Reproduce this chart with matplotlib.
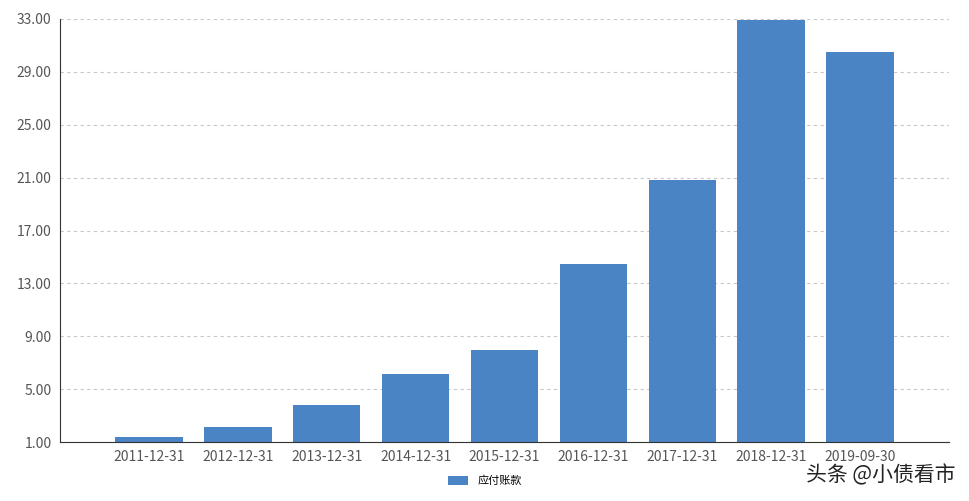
import matplotlib
matplotlib.use("Agg")
import matplotlib.pyplot as plt

plt.rcParams['font.family'] = ['Noto Sans CJK SC', 'DejaVu Sans']

dates = ["2011-12-31", "2012-12-31", "2013-12-31", "2014-12-31", "2015-12-31",
         "2016-12-31", "2017-12-31", "2018-12-31", "2019-09-30"]
payables = [1.38, 2.13, 3.8, 6.14, 7.96, 14.46, 20.82, 32.9, 30.5]
yticks = [1, 5, 9, 13, 17, 21, 25, 29, 33]

fig = plt.figure(figsize=(9.7, 5.01), dpi=100)
ax = fig.add_axes([60 / 970, 59 / 501, 889 / 970, 423 / 501])

x = range(len(dates))
ax.bar(x, [v - 1 for v in payables], bottom=1, width=0.76, color="#4a84c4", label="应付账款", zorder=2)

ax.set_xlim(-1, len(dates))
ax.set_ylim(1, 33)
ax.set_yticks(yticks)
ax.set_yticklabels([f"{v:.2f}" for v in yticks])
ax.set_xticks(list(x))
ax.set_xticklabels(dates)
ax.yaxis.grid(True, linestyle=(0, (3, 3)), color="#c8c8c8", linewidth=0.8, zorder=0)
for s in ("top", "right"):
    ax.spines[s].set_visible(False)
ax.spines["left"].set_color("#333333")
ax.spines["bottom"].set_color("#333333")
ax.tick_params(axis="both", labelsize=10, labelcolor="#555555", length=0, pad=6)

fig.legend(loc="lower center", bbox_to_anchor=(0.5, 0.01), frameon=False, fontsize=8,
           handlelength=1.8, handleheight=0.9)
fig.text(0.985, 0.03, "头条 @小债看市", ha="right", va="bottom", fontsize=15, color="#222222")

fig.savefig("out.png", dpi=100)
